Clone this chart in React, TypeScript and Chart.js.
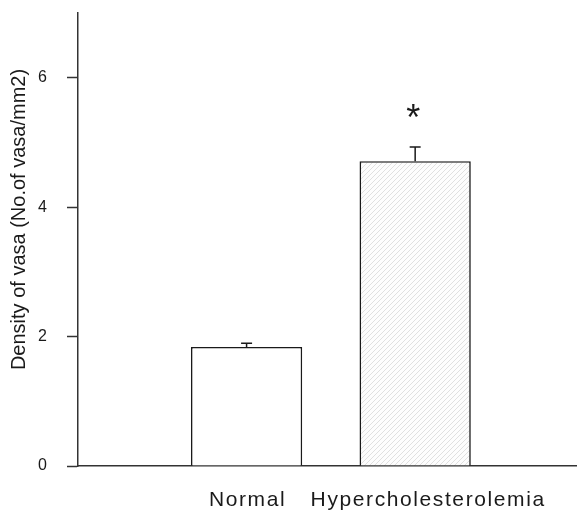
import React, { useEffect, useRef } from "react";
import { Chart, registerables } from "chart.js";

Chart.register(...registerables);

const categories = ["Normal", "Hypercholesterolemia"];
const means = [1.84, 4.71];
const errors = [0.055, 0.22];
const significance = ["", "*"];
const yTicks = [0, 2, 4, 6];
const yTitle = "Density of vasa (No.of vasa/mm2)";

const FONT = "'Liberation Sans', Arial, Helvetica, sans-serif";
const INK = "#1a1a1a";

function makeHatch(): CanvasPattern | string {
  const c = document.createElement("canvas");
  c.width = 5;
  c.height = 5;
  const g = c.getContext("2d");
  if (!g) return "#f6f6f6";
  g.fillStyle = "#fdfdfd";
  g.fillRect(0, 0, 5, 5);
  g.strokeStyle = "#e0e0e0";
  g.lineWidth = 1;
  g.beginPath();
  g.moveTo(0, 5);
  g.lineTo(5, 0);
  g.moveTo(-2.5, 2.5);
  g.lineTo(2.5, -2.5);
  g.moveTo(2.5, 7.5);
  g.lineTo(7.5, 2.5);
  g.stroke();
  const p = g.createPattern(c, "repeat");
  return p || "#f6f6f6";
}

const extrasPlugin = {
  id: "extras",
  afterDatasetsDraw(chart: any) {
    const ctx = chart.ctx;
    const y = chart.scales.y;
    const meta = chart.getDatasetMeta(0);
    ctx.save();
    ctx.strokeStyle = INK;
    ctx.lineWidth = 1.5;
    means.forEach((m, i) => {
      const bar = meta.data[i];
      const cx = bar.x;
      const yTop = y.getPixelForValue(m);
      const yErr = y.getPixelForValue(m + errors[i]);
      ctx.beginPath();
      ctx.moveTo(cx, yTop);
      ctx.lineTo(cx, yErr);
      ctx.moveTo(cx - 5.5, yErr);
      ctx.lineTo(cx + 5.5, yErr);
      ctx.stroke();
      if (significance[i]) {
        ctx.fillStyle = INK;
        ctx.font = `36px ${FONT}`;
        ctx.textAlign = "center";
        ctx.textBaseline = "alphabetic";
        ctx.fillText(significance[i], cx - 2, yErr - 17);
      }
    });
    ctx.restore();
  },
  afterDraw(chart: any) {
    const ctx = chart.ctx;
    const meta = chart.getDatasetMeta(0);
    const area = chart.chartArea;
    ctx.save();
    ctx.fillStyle = INK;
    ctx.font = `21px ${FONT}`;
    (ctx as any).letterSpacing = "1.6px";
    ctx.textAlign = "center";
    ctx.textBaseline = "middle";
    const shifts = [1, 13];
    categories.forEach((c, i) => {
      ctx.fillText(c, meta.data[i].x + shifts[i], area.bottom + 34);
    });
    (ctx as any).letterSpacing = "0px";
    ctx.translate(19, (area.top + area.bottom) / 2 - 20);
    ctx.rotate(-Math.PI / 2);
    ctx.font = `20px ${FONT}`;
    ctx.textAlign = "center";
    ctx.textBaseline = "middle";
    ctx.fillText(yTitle, 0, 0);
    ctx.restore();
  },
};

export default function App() {
  const ref = useRef<HTMLCanvasElement | null>(null);
  useEffect(() => {
    if (!ref.current) return;
    const hatch = makeHatch();
    const chart = new Chart(ref.current, {
      type: "bar",
      data: {
        datasets: [
          {
            data: means.map((v, i) => ({ x: i + 1, y: v })) as any,
            backgroundColor: ["#fff", hatch as any],
            borderColor: INK,
            borderWidth: 1.6,
            borderSkipped: "bottom",
            barPercentage: 0.66,
            categoryPercentage: 1,
          },
        ],
      },
      options: {
        animation: false,
        responsive: false,
        layout: { padding: { top: 13, right: 0, left: 0, bottom: 0 } },
        plugins: { legend: { display: false }, tooltip: { enabled: false } },
        scales: {
          x: {
            type: "linear",
            min: 0,
            max: 2.96,
            offset: false,
            grid: { display: false },
            border: { display: true, color: "#333", width: 1.5 },
            ticks: { display: false },
            afterBuildTicks(scale: any) {
              scale.ticks = categories.map((_, i) => ({ value: i + 1 }));
            },
            afterFit(scale: any) {
              scale.height = 48;
              scale.paddingLeft = 0;
              scale.paddingRight = 0;
            },
          },
          y: {
            min: 0,
            max: 7,
            afterBuildTicks(scale: any) {
              scale.ticks = yTicks.map((v) => ({ value: v }));
            },
            grid: {
              drawOnChartArea: false,
              drawTicks: true,
              tickLength: 11,
              tickColor: "#333",
              tickWidth: 1.5,
            },
            border: { display: true, color: "#333", width: 1.5 },
            ticks: {
              color: INK,
              padding: 20,
              font: { family: FONT, size: 16 },
            },
            afterFit(scale: any) {
              scale.width = 78;
              scale.paddingTop = 0;
              scale.paddingBottom = 0;
            },
          },
        },
      },
      plugins: [extrasPlugin],
    });
    return () => chart.destroy();
  }, []);
  return (
    <div style={{ position: "fixed", left: 0, top: 0, width: 577, height: 514, background: "#fff" }}>
      <canvas ref={ref} width={577} height={514} style={{ display: "block" }} />
    </div>
  );
}
